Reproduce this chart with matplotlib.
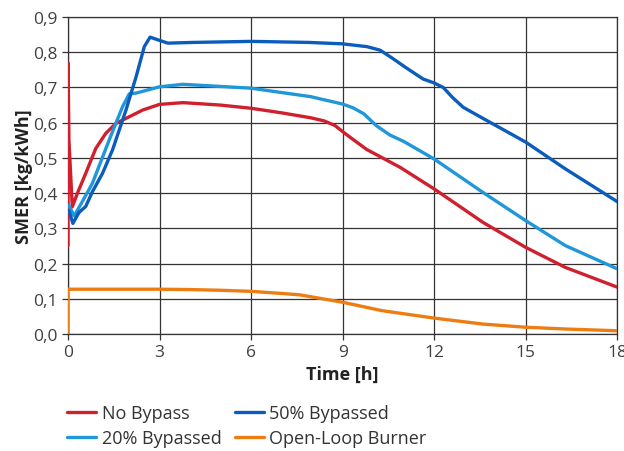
import matplotlib
matplotlib.use("Agg")
import matplotlib.pyplot as plt

plt.rcParams['font.family'] = ['Open Sans', 'DejaVu Sans']

t_red = [0, 0, 0.03, 0.14, 0.31, 0.58, 0.91, 1.24, 1.57, 2.01, 2.45, 3.0, 3.77, 5.0, 6.0, 7.0, 7.95, 8.4, 8.75, 9.1, 9.79, 10.89, 12.0, 13.6, 15.0, 16.3, 18.0]
no_bypass = [0.25, 0.77, 0.55, 0.361, 0.40, 0.456, 0.527, 0.57, 0.598, 0.617, 0.636, 0.652, 0.657, 0.650, 0.641, 0.628, 0.614, 0.605, 0.592, 0.568, 0.524, 0.473, 0.412, 0.317, 0.246, 0.189, 0.133]

t_b50 = [0.03, 0.16, 0.36, 0.58, 0.8, 1.13, 1.46, 1.9, 2.23, 2.5, 2.69, 2.89, 3.27, 4.1, 6.0, 7.9, 9.0, 9.8, 10.23, 10.6, 11.1, 11.64, 12.0, 12.3, 12.6, 12.95, 13.4, 15.0, 16.3, 18.0]
bypass50 = [0.35, 0.314, 0.345, 0.362, 0.404, 0.456, 0.523, 0.636, 0.73, 0.816, 0.843, 0.837, 0.826, 0.828, 0.831, 0.828, 0.824, 0.816, 0.806, 0.785, 0.755, 0.724, 0.713, 0.700, 0.672, 0.644, 0.622, 0.545, 0.469, 0.376]

t_b20 = [0.03, 0.2, 0.47, 0.8, 1.35, 1.79, 2.01, 2.23, 3.0, 3.77, 6.0, 7.95, 9.0, 9.35, 9.7, 10.1, 10.55, 11.0, 12.0, 13.6, 15.0, 16.3, 18.0]
bypass20 = [0.365, 0.335, 0.376, 0.428, 0.551, 0.646, 0.682, 0.684, 0.702, 0.709, 0.698, 0.674, 0.653, 0.642, 0.625, 0.592, 0.565, 0.547, 0.497, 0.402, 0.322, 0.251, 0.185]

t_ol = [0, 0, 1.0, 2.0, 3.0, 4.0, 5.0, 6.0, 7.0, 7.6, 9.0, 10.3, 12.0, 13.6, 15.0, 16.3, 18.0]
open_loop = [0.0, 0.127, 0.127, 0.127, 0.127, 0.126, 0.124, 0.121, 0.115, 0.111, 0.090, 0.066, 0.045, 0.028, 0.019, 0.014, 0.009]

xticks = [0, 3, 6, 9, 12, 15, 18]
yticks = [0.0, 0.1, 0.2, 0.3, 0.4, 0.5, 0.6, 0.7, 0.8, 0.9]

fig = plt.figure(figsize=(6.24, 4.52), dpi=100)
ax = fig.add_axes([0.109, 0.259, 0.880, 0.701])

lw = 2.4
kw = dict(lw=lw, solid_joinstyle='round', solid_capstyle='round')
l1, = ax.plot(t_red, no_bypass, color='#d0202e', label='No Bypass', zorder=3, **kw)
l3, = ax.plot(t_b20, bypass20, color='#1f97d9', label='20% Bypassed', zorder=3, **kw)
l2, = ax.plot(t_b50, bypass50, color='#0b5dbd', label='50% Bypassed', zorder=4, **kw)
l4, = ax.plot(t_ol, open_loop, color='#ee7d11', label='Open-Loop Burner', zorder=3, **kw)

ax.set_xlim(0, 18)
ax.set_ylim(0, 0.9)
ax.set_xticks(xticks)
ax.set_yticks(yticks)
ax.set_yticklabels([f"{v:.1f}".replace('.', ',') for v in yticks])
ax.grid(True, color='#333333', lw=0.9, zorder=0)
ax.set_axisbelow(True)
for s in ax.spines.values():
    s.set_color('#333333')
    s.set_linewidth(0.9)
ax.tick_params(labelsize=12.5, colors='#333333', labelcolor='#404040', length=4, width=0.9)
ax.set_xlabel('Time [h]', fontsize=13, fontweight='bold', color='#222222', labelpad=3)
ax.set_ylabel('SMER [kg/kWh]', fontsize=13, fontweight='bold', color='#222222', labelpad=0)

fig.legend(handles=[l1, l3, l2, l4], ncol=2, frameon=False, fontsize=13,
           loc='upper left', bbox_to_anchor=(0.082, 0.14), bbox_transform=fig.transFigure,
           handlelength=1.6, handletextpad=0.3, columnspacing=0.75, labelspacing=0.4,
           labelcolor='#333333')

fig.savefig('out.png', dpi=100)
